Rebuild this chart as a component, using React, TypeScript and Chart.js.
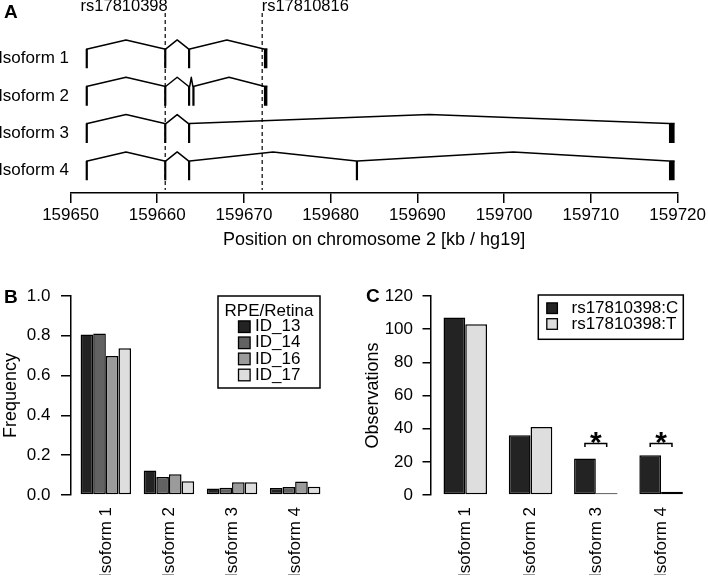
import React, { useEffect, useRef } from "react";
import { Chart, registerables } from "chart.js";

Chart.register(...registerables);

const FONT = "'Liberation Sans', Arial, Helvetica, sans-serif";
Chart.defaults.font.family = FONT;
Chart.defaults.color = "#000";

// ---------------- Panel A data ----------------
const ISOFORMS = ["Isoform 1", "Isoform 2", "Isoform 3", "Isoform 4"];
const EXONS_ISOFORM_1 = [[159651.8, 159651.95], [159660.85, 159661.0], [159663.6, 159663.75], [159672.3, 159672.7]];
const EXONS_ISOFORM_2 = [[159651.8, 159651.95], [159660.85, 159661.0], [159663.6, 159663.75], [159664.1, 159664.25], [159672.3, 159672.7]];
const EXONS_ISOFORM_3 = [[159651.8, 159651.95], [159660.85, 159661.0], [159663.6, 159663.75], [159719.0, 159719.65]];
const EXONS_ISOFORM_4 = [[159651.8, 159651.95], [159660.85, 159661.0], [159663.6, 159663.75], [159682.95, 159683.1], [159719.0, 159719.65]];
const SNP_NAMES = ["rs17810398", "rs17810816"];
const SNP_POSITIONS = [159660.92, 159672.1];
const POSITION_TICKS = [159650, 159660, 159670, 159680, 159690, 159700, 159710, 159720];

// ---------------- Panel B data ----------------
const SAMPLES = ["ID_13", "ID_14", "ID_16", "ID_17"];
const FREQ_ID_13 = [0.806, 0.123, 0.033, 0.035];
const FREQ_ID_14 = [0.812, 0.091, 0.036, 0.040];
const FREQ_ID_16 = [0.698, 0.104, 0.064, 0.068];
const FREQ_ID_17 = [0.737, 0.069, 0.064, 0.042];
const FREQ_TICKS = [0, 0.2, 0.4, 0.6, 0.8, 1.0];

// ---------------- Panel C data ----------------
const ALLELES = ["rs17810398:C", "rs17810398:T"];
const OBS_C = [107, 36, 22, 24];
const OBS_T = [103, 41, 1, 2];
const SIGNIFICANT = [false, false, true, true];
const OBS_TICKS = [0, 20, 40, 60, 80, 100, 120];

// ---------------- styles ----------------
const SAMPLE_COLORS = ["#232323", "#626262", "#9b9b9b", "#dedede"];
const ALLELE_COLORS = ["#232323", "#dedede"];

// Panel A row geometry (y units, 1 unit per isoform row)
const EXON_TOP = 0.86;
const EXON_BOTTOM = 0.34;
const INTRON_PEAK = 1.1;
const LABEL_Y = 0.6;
const DASH_TOP = 4.82;
const DASH_BOTTOM = 0.08;
const BRACKET_TOP = 31;
const BRACKET_FOOT = 29;

function buildPanelA(): any {
  const all = [EXONS_ISOFORM_1, EXONS_ISOFORM_2, EXONS_ISOFORM_3, EXONS_ISOFORM_4];
  const datasets: any[] = [];
  all.forEach((exons, i) => {
    const base = ISOFORMS.length - 1 - i;
    const pts: any[] = [];
    exons.forEach((e, k) => {
      if (k > 0) {
        const prev = exons[k - 1];
        pts.push({ x: (prev[1] + e[0]) / 2, y: base + INTRON_PEAK });
      }
      pts.push({ x: e[0], y: base + EXON_TOP }, { x: e[1], y: base + EXON_TOP });
    });
    datasets.push({
      data: pts,
      showLine: true,
      borderColor: "#000",
      borderWidth: 1.5,
      pointRadius: 0,
      tension: 0,
      borderJoinStyle: "round",
    });
    exons.forEach((e) => {
      const cx = (e[0] + e[1]) / 2;
      datasets.push({
        data: [
          { x: cx, y: base + EXON_TOP },
          { x: cx, y: base + EXON_BOTTOM },
        ],
        showLine: true,
        borderColor: "#000",
        pointRadius: 0,
        borderCapStyle: "butt",
        borderWidth: (ctx: any) => {
          const xs = ctx.chart.scales.x;
          if (!xs) return 2.2;
          return Math.max(2.2, xs.getPixelForValue(e[1]) - xs.getPixelForValue(e[0]));
        },
      });
    });
  });
  SNP_POSITIONS.forEach((p) => {
    datasets.push({
      data: [
        { x: p, y: DASH_TOP },
        { x: p, y: DASH_BOTTOM },
      ],
      showLine: true,
      borderColor: "#000",
      borderWidth: 1.2,
      borderDash: [4, 3],
      pointRadius: 0,
    });
  });

  const plugin = {
    id: "panelA",
    afterDraw(chart: any) {
      const { ctx } = chart;
      const xs = chart.scales.x;
      ctx.save();
      ctx.fillStyle = "#000";
      ctx.font = `bold 19px ${FONT}`;
      ctx.textBaseline = "middle";
      ctx.textAlign = "left";
      ctx.fillText("A", 4, 13);
      ctx.font = `16.5px ${FONT}`;
      SNP_NAMES.forEach((n, i) => {
        const x = xs.getPixelForValue(SNP_POSITIONS[i]);
        ctx.textAlign = i === 0 ? "right" : "left";
        ctx.fillText(n, i === 0 ? x + 2.5 : x - 0.5, 6);
      });
      ctx.restore();
    },
  };

  return {
    type: "scatter",
    data: { datasets },
    plugins: [plugin],
    options: {
      animation: false,
      responsive: false,
      devicePixelRatio: 1,
      events: [],
      layout: { padding: { left: 0, right: 27, top: 0, bottom: 11 } },
      plugins: { legend: { display: false }, tooltip: { enabled: false } },
      scales: {
        x: {
          type: "linear",
          min: 159650,
          max: 159720,
          afterBuildTicks: (s: any) => {
            s.ticks = POSITION_TICKS.map((v) => ({ value: v }));
          },
          afterFit: (s: any) => {
            s.height = 58;
          },
          ticks: {
            callback: (v: any) => String(v),
            font: { size: 17 },
            color: "#000",
            padding: 2,
            autoSkip: false,
            maxRotation: 0,
          },
          grid: {
            display: true,
            drawOnChartArea: false,
            drawTicks: true,
            tickLength: 10,
            color: "#000",
            lineWidth: 1.5,
          },
          border: { display: true, color: "#000", width: 1.5 },
          title: {
            display: true,
            text: "Position on chromosome 2 [kb / hg19]",
            font: { size: 18 },
            color: "#000",
            padding: { top: 0, bottom: 0 },
          },
        },
        y: {
          type: "linear",
          min: 0,
          max: 5.17,
          afterBuildTicks: (s: any) => {
            s.ticks = ISOFORMS.map((_, i) => ({ value: ISOFORMS.length - 1 - i + LABEL_Y }));
          },
          afterFit: (s: any) => {
            s.width = 70.5;
            s.paddingTop = 0;
            s.paddingBottom = 0;
          },
          ticks: {
            callback: (_v: any, i: number) => ISOFORMS[i],
            font: { size: 17 },
            color: "#000",
            padding: 1.5,
            autoSkip: false,
          },
          grid: { display: false, drawTicks: false, tickLength: 0 },
          border: { display: false },
        },
      },
    },
  };
}

function categoryXAxis(min: number, max: number) {
  return {
    type: "linear",
    min,
    max,
    offset: false,
    afterBuildTicks: (s: any) => {
      s.ticks = ISOFORMS.map((_, i) => ({ value: i + 1 }));
    },
    afterFit: (s: any) => {
      s.height = 80;
    },
    ticks: {
      callback: (_v: any, i: number) => ISOFORMS[i],
      autoSkip: false,
      minRotation: 90,
      maxRotation: 90,
      padding: 12,
      font: { size: 17 },
      color: "#000",
    },
    grid: { display: false, drawTicks: false, tickLength: 0, offset: false },
    border: { display: false },
  };
}

function buildPanelB(): any {
  const series = [FREQ_ID_13, FREQ_ID_14, FREQ_ID_16, FREQ_ID_17];
  const datasets = SAMPLES.map((name, i) => ({
    label: name,
    data: series[i].map((v, j) => ({ x: j + 1, y: v })),
    backgroundColor: SAMPLE_COLORS[i],
    borderColor: "#000",
    borderWidth: 1.5,
    borderSkipped: false,
    categoryPercentage: 0.8,
    barPercentage: 1,
  }));

  const plugin = {
    id: "panelB",
    afterDraw(chart: any) {
      const { ctx } = chart;
      ctx.save();
      ctx.fillStyle = "#000";
      ctx.font = `bold 19px ${FONT}`;
      ctx.textBaseline = "middle";
      ctx.textAlign = "left";
      ctx.fillText("B", 4, 36);
      // legend
      const bx = 218, by = 34, bw = 102, bh = 92;
      ctx.lineWidth = 1.5;
      ctx.strokeStyle = "#000";
      ctx.strokeRect(bx, by, bw, bh);
      ctx.font = `17px ${FONT}`;
      ctx.textAlign = "center";
      ctx.fillText("RPE/Retina", bx + bw / 2, 49);
      SAMPLES.forEach((s, i) => {
        const cy = 64.7 + i * 16.1;
        ctx.fillStyle = SAMPLE_COLORS[i];
        ctx.fillRect(238.5, cy - 5.8, 11.6, 11.6);
        ctx.lineWidth = 1.3;
        ctx.strokeRect(238.5, cy - 5.8, 11.6, 11.6);
        ctx.fillStyle = "#000";
        ctx.textAlign = "left";
        ctx.fillText(s, 255, cy);
      });
      ctx.restore();
    },
  };

  return {
    type: "bar",
    data: { datasets },
    plugins: [plugin],
    options: {
      animation: false,
      responsive: false,
      devicePixelRatio: 1,
      events: [],
      layout: { padding: { left: 0, right: 21, top: 34, bottom: 8 } },
      plugins: { legend: { display: false }, tooltip: { enabled: false } },
      scales: {
        x: categoryXAxis(0.448, 4.6),
        y: {
          type: "linear",
          min: 0,
          max: 1,
          afterBuildTicks: (s: any) => {
            s.ticks = FREQ_TICKS.map((v) => ({ value: v }));
          },
          afterFit: (s: any) => {
            s.width = 71;
          },
          ticks: {
            callback: (v: any) => Number(v).toFixed(1),
            font: { size: 17 },
            color: "#000",
            padding: 10.5,
          },
          grid: {
            display: true,
            drawOnChartArea: false,
            drawTicks: true,
            tickLength: 10,
            color: "#000",
            lineWidth: 1.5,
          },
          border: { display: true, color: "#000", width: 1.5 },
          title: {
            display: true,
            text: "Frequency",
            font: { size: 18 },
            color: "#000",
            padding: { top: 0, bottom: 0 },
          },
        },
      },
    },
  };
}

function buildPanelC(): any {
  const series = [OBS_C, OBS_T];
  const datasets: any[] = ALLELES.map((name, i) => ({
    type: "bar",
    label: name,
    data: series[i].map((v, j) => ({ x: j + 1, y: v })),
    backgroundColor: ALLELE_COLORS[i],
    borderColor: "#000",
    borderWidth: 1.5,
    borderSkipped: false,
    categoryPercentage: 2 / 3,
    barPercentage: 1,
  }));
  const half = 2 / 3 / ALLELES.length / 2;
  SIGNIFICANT.forEach((sig, j) => {
    if (!sig) return;
    datasets.push({
      type: "line",
      data: [
        { x: j + 1 - half, y: BRACKET_FOOT },
        { x: j + 1 - half, y: BRACKET_TOP },
        { x: j + 1 + half, y: BRACKET_TOP },
        { x: j + 1 + half, y: BRACKET_FOOT },
      ],
      borderColor: "#000",
      borderWidth: 1.5,
      pointRadius: 0,
      tension: 0,
      fill: false,
    });
  });

  const plugin = {
    id: "panelC",
    afterDraw(chart: any) {
      const { ctx } = chart;
      const xs = chart.scales.x;
      const ys = chart.scales.y;
      ctx.save();
      ctx.fillStyle = "#000";
      ctx.font = `bold 19px ${FONT}`;
      ctx.textBaseline = "middle";
      ctx.textAlign = "left";
      ctx.fillText("C", 12, 35);
      // stars
      ctx.font = `bold 30px ${FONT}`;
      ctx.textAlign = "center";
      ctx.textBaseline = "alphabetic";
      SIGNIFICANT.forEach((sig, j) => {
        if (!sig) return;
        ctx.fillText("*", xs.getPixelForValue(j + 1), ys.getPixelForValue(BRACKET_TOP) + 8);
      });
      // legend
      const bx = 184.3, by = 33, bw = 145, bh = 44.3;
      ctx.lineWidth = 1.5;
      ctx.strokeStyle = "#000";
      ctx.strokeRect(bx, by, bw, bh);
      ctx.font = `17px ${FONT}`;
      ctx.textBaseline = "middle";
      ALLELES.forEach((a, i) => {
        const cy = 46.2 + i * 15.8;
        ctx.fillStyle = ALLELE_COLORS[i];
        ctx.fillRect(192.8, cy - 5.3, 10.6, 10.6);
        ctx.lineWidth = 1.3;
        ctx.strokeRect(192.8, cy - 5.3, 10.6, 10.6);
        ctx.fillStyle = "#000";
        ctx.textAlign = "left";
        ctx.fillText(a, 217.5, cy);
      });
      ctx.restore();
    },
  };

  return {
    type: "bar",
    data: { datasets },
    plugins: [plugin],
    options: {
      animation: false,
      responsive: false,
      devicePixelRatio: 1,
      events: [],
      layout: { padding: { left: 0, right: 11, top: 34, bottom: 8 } },
      plugins: { legend: { display: false }, tooltip: { enabled: false } },
      scales: {
        x: categoryXAxis(0.475, 4.55),
        y: {
          type: "linear",
          min: 0,
          max: 120,
          afterBuildTicks: (s: any) => {
            s.ticks = OBS_TICKS.map((v) => ({ value: v }));
          },
          afterFit: (s: any) => {
            s.width = 77;
          },
          ticks: {
            callback: (v: any) => String(v),
            font: { size: 17 },
            color: "#000",
            padding: 9.5,
          },
          grid: {
            display: true,
            drawOnChartArea: false,
            drawTicks: true,
            tickLength: 8.5,
            color: "#000",
            lineWidth: 1.5,
          },
          border: { display: true, color: "#000", width: 1.5 },
          title: {
            display: true,
            text: "Observations",
            font: { size: 18 },
            color: "#000",
            padding: { top: 8.5, bottom: 0 },
          },
        },
      },
    },
  };
}

function ChartCanvas(props: { left: number; top: number; width: number; height: number; build: () => any }) {
  const ref = useRef<HTMLCanvasElement>(null);
  useEffect(() => {
    const chart = new Chart(ref.current as HTMLCanvasElement, props.build());
    return () => chart.destroy();
  }, []);
  return (
    <canvas
      ref={ref}
      width={props.width}
      height={props.height}
      style={{ position: "absolute", left: props.left, top: props.top, width: props.width, height: props.height }}
    />
  );
}

export default function App() {
  return (
    <div style={{ position: "absolute", left: 0, top: 0, width: 708, height: 583, background: "#fff", overflow: "hidden" }}>
      <ChartCanvas left={0} top={0} width={708} height={262} build={buildPanelA} />
      <ChartCanvas left={0} top={262} width={354} height={321} build={buildPanelB} />
      <ChartCanvas left={354} top={262} width={354} height={321} build={buildPanelC} />
    </div>
  );
}
